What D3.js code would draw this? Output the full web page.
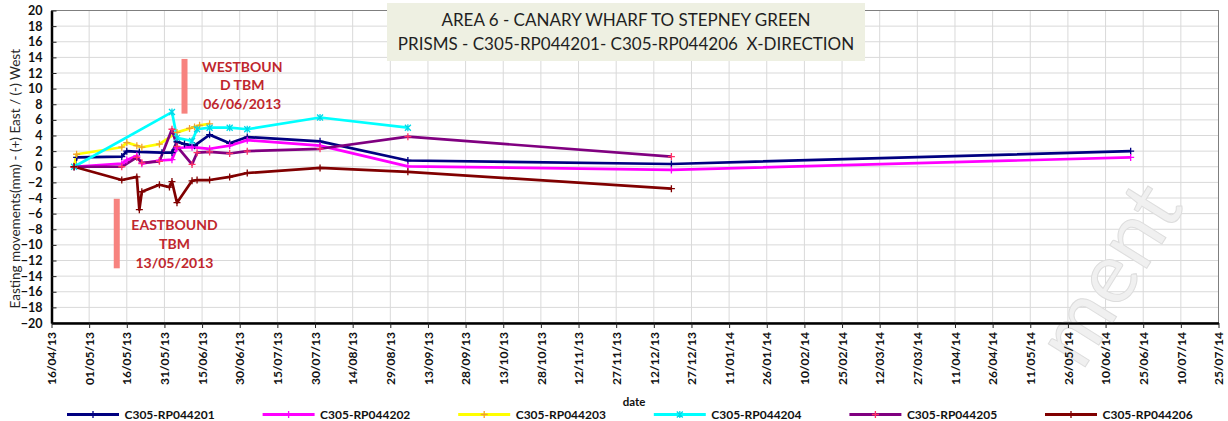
<!DOCTYPE html>
<html>
<head>
<meta charset="utf-8">
<script src="https://cdn.jsdelivr.net/npm/d3@7"></script>
<style>
body{margin:0;background:#fff;}
svg{display:block;font-family:Lato,"Open Sans",sans-serif;}
</style>
</head>
<body>
<div id="chart-container"></div>
<script>
const seriesNames = ["C305-RP044201","C305-RP044202","C305-RP044203","C305-RP044204","C305-RP044205","C305-RP044206"];
const lineColors = ["#000080","#ff00ff","#ffff00","#00ffff","#800080","#800000"];
const markerColors = ["#000080","#ff00ff","#f0a030","#00d8e8","#ff3366","#800000"];

const dates201 = ["25/04/2013","26/04/2013","14/05/2013","16/05/2013","21/05/2013","30/05/2013","03/06/2013","05/06/2013","08/06/2013","12/06/2013","18/06/2013","26/06/2013","03/07/2013","01/08/2013","05/09/2013","19/12/2013","20/06/2014"];
const values201 = [0,1.2,1.3,2.0,1.9,1.8,1.8,3.2,2.9,2.7,4.1,3.0,3.8,3.25,0.8,0.35,2.0];

const dates202 = ["25/04/2013","14/05/2013","16/05/2013","20/05/2013","22/05/2013","29/05/2013","03/06/2013","05/06/2013","11/06/2013","18/06/2013","26/06/2013","03/07/2013","01/08/2013","05/09/2013","19/12/2013","20/06/2014"];
const values202 = [0,0.4,0.85,1.4,0.4,0.8,0.9,2.4,2.5,2.3,2.7,3.4,2.7,0.05,-0.4,1.2];

const dates203 = ["25/04/2013","26/04/2013","14/05/2013","16/05/2013","20/05/2013","22/05/2013","29/05/2013","05/06/2013","10/06/2013","12/06/2013","14/06/2013","18/06/2013"];
const values203 = [0,1.6,2.5,3.1,2.7,2.5,2.9,4.4,4.9,5.1,5.3,5.5];

const dates204 = ["25/04/2013","03/06/2013","05/06/2013","11/06/2013","13/06/2013","18/06/2013","26/06/2013","03/07/2013","01/08/2013","05/09/2013"];
const values204 = [0,7.0,3.7,3.3,4.8,5.0,5.0,4.8,6.3,5.0];

const dates205 = ["25/04/2013","14/05/2013","20/05/2013","22/05/2013","29/05/2013","03/06/2013","05/06/2013","11/06/2013","13/06/2013","18/06/2013","26/06/2013","03/07/2013","01/08/2013","05/09/2013","19/12/2013"];
const values205 = [0,0,1.2,0.5,0.7,4.8,2.6,0.3,1.8,1.9,1.7,2.0,2.3,3.85,1.3];

const dates206 = ["25/04/2013","14/05/2013","20/05/2013","21/05/2013","22/05/2013","29/05/2013","02/06/2013","03/06/2013","05/06/2013","11/06/2013","13/06/2013","18/06/2013","26/06/2013","03/07/2013","01/08/2013","05/09/2013","19/12/2013"];
const values206 = [0,-1.7,-1.3,-5.5,-3.2,-2.3,-2.6,-1.9,-4.6,-1.8,-1.7,-1.7,-1.3,-0.8,-0.15,-0.65,-2.8];

const xTickLabels = ["16/04/2013","01/05/2013","16/05/2013","31/05/2013","15/06/2013","30/06/2013","15/07/2013","30/07/2013","14/08/2013","29/08/2013","13/09/2013","28/09/2013","13/10/2013","28/10/2013","12/11/2013","27/11/2013","12/12/2013","27/12/2013","11/01/2014","26/01/2014","10/02/2014","25/02/2014","12/03/2014","27/03/2014","11/04/2014","26/04/2014","11/05/2014","26/05/2014","10/06/2014","25/06/2014","10/07/2014","25/07/2014"];
const yTicks = [-20,-18,-16,-14,-12,-10,-8,-6,-4,-2,0,2,4,6,8,10,12,14,16,18,20];

const titleLines = ["AREA 6 - CANARY WHARF TO STEPNEY GREEN","PRISMS - C305-RP044201- C305-RP044206  X-DIRECTION"];
const westLines = ["WESTBOUN","D TBM","06/06/2013"];
const eastLines = ["EASTBOUND","TBM","13/05/2013"];

const parse = d3.utcParse("%d/%m/%Y");
const fmt = d3.utcFormat("%d/%m/%y");

const allDates = [dates201,dates202,dates203,dates204,dates205,dates206];
const allValues = [values201,values202,values203,values204,values205,values206];
const series = seriesNames.map((name,i) => ({
  name,
  color: lineColors[i],
  marker: markerColors[i],
  points: allDates[i].map((d,j) => ({date: parse(d), value: allValues[i][j]}))
}));

const width = 1228;
const height = 421;
const plot = {left: 51.5, right: 1218.5, top: 10.5, bottom: 323};

const svg = d3.select("#chart-container")
  .append("svg")
  .attr("width", width)
  .attr("height", height);

const xTicks = xTickLabels.map(parse);
const x = d3.scaleUtc()
  .domain([xTicks[0], xTicks[xTicks.length-1]])
  .range([plot.left, plot.right]);
const y = d3.scaleLinear()
  .domain([-20, 20])
  .range([plot.bottom, plot.top]);

// gridlines
svg.append("g").selectAll("line")
  .data(xTicks)
  .enter().append("line")
  .attr("x1", d => x(d)).attr("x2", d => x(d))
  .attr("y1", plot.top).attr("y2", plot.bottom)
  .attr("stroke", "#d9d9d9");
svg.append("g").selectAll("line")
  .data(yTicks)
  .enter().append("line")
  .attr("x1", plot.left).attr("x2", plot.right)
  .attr("y1", d => y(d)).attr("y2", d => y(d))
  .attr("stroke", "#d9d9d9");

svg.append("rect")
  .attr("x", plot.left).attr("y", plot.top)
  .attr("width", plot.right - plot.left)
  .attr("height", plot.bottom - plot.top)
  .attr("fill", "none")
  .attr("stroke", "#7f7f7f");

// watermark
svg.append("text")
  .attr("transform", "translate(1082,372) rotate(-58)")
  .attr("font-size", "86px")
  .attr("fill", "#f0f0f0")
  .attr("stroke", "#dddddd")
  .attr("stroke-width", 1)
  .text("ment");

// annotation bars
svg.append("rect")
  .attr("x", x(parse("08/06/2013")) - 3)
  .attr("y", y(13.8))
  .attr("width", 6)
  .attr("height", y(6.8) - y(13.8))
  .attr("fill", "#f7837f");
svg.append("rect")
  .attr("x", x(parse("12/05/2013")) - 3)
  .attr("y", y(-4.1))
  .attr("width", 6)
  .attr("height", y(-13) - y(-4.1))
  .attr("fill", "#f7837f");

const line = d3.line()
  .x(d => x(d.date))
  .y(d => y(d.value));

series.forEach(s => {
  svg.append("path")
    .datum(s.points)
    .attr("d", line)
    .attr("fill", "none")
    .attr("stroke", s.color)
    .attr("stroke-width", 2.7)
    .attr("stroke-linejoin", "round");
});

series.forEach((s,i) => {
  const shape = i == 3 ? "M-3,-3L3,3M-3,3L3,-3M0,-3.5V3.5" : "M-3.5,0H3.5M0,-3.5V3.5";
  svg.append("g").selectAll("path")
    .data(s.points)
    .enter().append("path")
    .attr("transform", d => `translate(${x(d.date)},${y(d.value)})`)
    .attr("d", shape)
    .attr("stroke", s.marker)
    .attr("stroke-width", 1.3);
});

// annotation texts
svg.append("g").selectAll("text")
  .data(westLines)
  .enter().append("text")
  .attr("x", x(parse("01/07/2013")))
  .attr("y", (d,i) => y(12.8) + i*18.7)
  .attr("dy", "0.35em")
  .attr("text-anchor", "middle")
  .attr("font-size", "14px")
  .attr("font-weight", "bold")
  .attr("fill", "#c0272d")
  .text(d => d);
svg.append("g").selectAll("text")
  .data(eastLines)
  .enter().append("text")
  .attr("x", x(parse("04/06/2013")))
  .attr("y", (d,i) => y(-7.45) + i*19)
  .attr("dy", "0.35em")
  .attr("text-anchor", "middle")
  .attr("font-size", "14px")
  .attr("font-weight", "bold")
  .attr("fill", "#c0272d")
  .text(d => d);

// axes
const yAxis = svg.append("g")
  .attr("transform", `translate(${plot.left},0)`)
  .call(d3.axisLeft(y).tickValues(yTicks).tickSize(-5).tickSizeOuter(0).tickPadding(9));
yAxis.select(".domain").attr("stroke", "#000").attr("stroke-width", 2.5);
yAxis.selectAll(".tick line").attr("stroke", "#222");
yAxis.selectAll("text")
  .attr("font-family", "Lato, sans-serif")
  .attr("font-size", "12.5px")
  .attr("font-weight", "bold")
  .attr("fill", "#111");

const xAxis = svg.append("g")
  .attr("transform", `translate(0,${plot.bottom})`)
  .call(d3.axisBottom(x).tickValues(xTicks).tickFormat(fmt).tickSize(5).tickSizeOuter(0));
xAxis.select(".domain").attr("stroke", "#000").attr("stroke-width", 2.5);
xAxis.selectAll(".tick line").attr("stroke", "#222");
xAxis.selectAll("text")
  .attr("transform", "rotate(-90)")
  .attr("x", -9)
  .attr("y", 0)
  .attr("dy", "0.35em")
  .attr("text-anchor", "end")
  .attr("font-family", "Lato, sans-serif")
  .attr("font-size", "12px")
  .attr("font-weight", "bold")
  .attr("fill", "#111");

svg.append("text")
  .attr("transform", `translate(15,${(plot.top+plot.bottom)/2 + 12}) rotate(-90)`)
  .attr("text-anchor", "middle")
  .attr("dy", "0.35em")
  .attr("font-size", "13.5px")
  .attr("fill", "#262626")
  .text("Easting movements(mm) - (+) East / (-) West");

svg.append("text")
  .attr("x", 634)
  .attr("y", 406)
  .attr("text-anchor", "middle")
  .attr("font-size", "11.5px")
  .attr("font-weight", "bold")
  .attr("fill", "#111")
  .text("date");

// title
svg.append("rect")
  .attr("x", 387).attr("y", 3)
  .attr("width", 478).attr("height", 58)
  .attr("fill", "#eef0e2");
svg.append("g").selectAll("text")
  .data(titleLines)
  .enter().append("text")
  .attr("x", 626)
  .attr("y", (d,i) => 20.5 + i*23.5)
  .attr("dy", "0.35em")
  .attr("text-anchor", "middle")
  .attr("font-size", "17px")
  .attr("fill", "#1f1f1f")
  .style("white-space", "pre")
  .text(d => d);

// legend
const legend = svg.append("g").selectAll("g")
  .data(series)
  .enter().append("g")
  .attr("transform", (d,i) => `translate(${67 + i*195.6},414.5)`);
legend.append("line")
  .attr("x1", 0).attr("x2", 52)
  .attr("stroke", d => d.color)
  .attr("stroke-width", 3);
legend.append("path")
  .attr("transform", "translate(26,0)")
  .attr("d", (d,i) => i == 3 ? "M-3,-3L3,3M-3,3L3,-3M0,-3.5V3.5" : "M-3.5,0H3.5M0,-3.5V3.5")
  .attr("stroke", d => d.marker)
  .attr("stroke-width", 1.3);
legend.append("text")
  .attr("x", 57.5)
  .attr("dy", "0.35em")
  .attr("font-size", "12px")
  .attr("font-weight", "bold")
  .attr("fill", "#111")
  .text(d => d.name);
</script>
</body>
</html>
